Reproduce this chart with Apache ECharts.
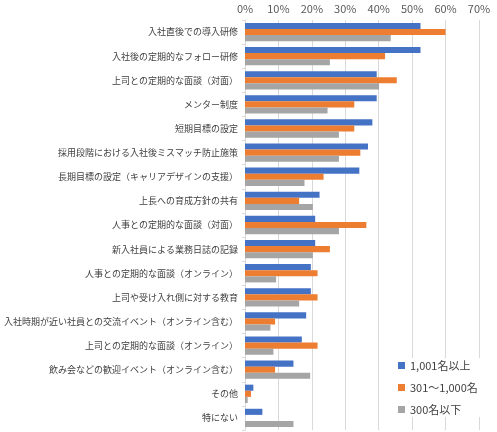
<!DOCTYPE html>
<html lang="ja">
<head>
    <meta charset="UTF-8">
    <title>新入社員フォロー施策</title>
    <script src="https://cdn.jsdelivr.net/npm/echarts@6/dist/echarts.min.js"></script>
    <style>
        html, body { margin: 0; padding: 0; background: #fff; }
    </style>
</head>
<body>
<div id="chart" style="width: 497px; height: 432px;"></div>
<script>
    // 項目（上から順）
    var categories = [
        '入社直後での導入研修',
        '入社後の定期的なフォロー研修',
        '上司との定期的な面談（対面）',
        'メンター制度',
        '短期目標の設定',
        '採用段階における入社後ミスマッチ防止施策',
        '長期目標の設定（キャリアデザインの支援）',
        '上長への育成方針の共有',
        '人事との定期的な面談（対面）',
        '新入社員による業務日誌の記録',
        '人事との定期的な面談（オンライン）',
        '上司や受け入れ側に対する教育',
        '入社時期が近い社員との交流イベント（オンライン含む）',
        '上司との定期的な面談（オンライン）',
        '飲み会などの歓迎イベント（オンライン含む）',
        'その他',
        '特にない'
    ];
    var seriesNames = ['1,001名以上', '301～1,000名', '300名以下'];
    // 値（%）
    var large = [52.5, 52.5, 39.4, 39.4, 38.1, 36.8, 34.2, 22.3, 21.0, 21.0, 19.7, 19.7, 18.3, 17.0, 14.5, 2.5, 5.2];
    var middle = [60.0, 41.9, 45.4, 32.7, 32.7, 34.5, 23.5, 16.2, 36.3, 25.4, 21.7, 21.7, 9.0, 21.7, 9.0, 1.8, 0];
    var small = [43.6, 25.4, 40.1, 24.7, 28.1, 28.1, 17.8, 20.3, 28.1, 20.3, 9.3, 16.2, 7.6, 8.5, 19.5, 0.8, 14.5];
    var colors = ['#4472C4', '#ED7D31', '#A5A5A5'];

    var chart = echarts.init(document.getElementById('chart'));
    var fontFamily = '"Noto Sans CJK JP", "Noto Sans", sans-serif';

    function makeSeries(name, data) {
        return {
            name: name,
            type: 'bar',
            data: data,
            barGap: 0,
            barCategoryGap: '24%',
            animation: false
        };
    }

    chart.setOption({
        color: colors,
        textStyle: { fontFamily: fontFamily },
        grid: { left: 245, right: 18, top: 20, bottom: 2 },
        legend: {
            data: seriesNames,
            orient: 'vertical',
            left: 396,
            top: 358,
            itemWidth: 7,
            itemHeight: 7,
            itemGap: 11,
            icon: 'rect',
            backgroundColor: '#fff',
            padding: [2, 4, 2, 2],
            textStyle: { fontSize: 11, color: '#404040', fontFamily: fontFamily }
        },
        xAxis: {
            type: 'value',
            position: 'top',
            min: 0,
            max: 70,
            interval: 10,
            axisLine: { show: false },
            axisTick: { show: false },
            axisLabel: {
                formatter: '{value}%',
                fontSize: 11,
                color: '#595959',
                margin: 6
            },
            splitLine: { lineStyle: { color: '#D9D9D9', width: 1 } }
        },
        yAxis: {
            type: 'category',
            data: categories,
            inverse: true,
            axisLine: { lineStyle: { color: '#D9D9D9' } },
            axisTick: { show: true, length: 3, lineStyle: { color: '#D9D9D9' } },
            axisLabel: {
                fontSize: 9,
                color: '#404040',
                margin: 7
            }
        },
        series: [
            makeSeries(seriesNames[0], large),
            makeSeries(seriesNames[1], middle),
            makeSeries(seriesNames[2], small)
        ]
    });
</script>
</body>
</html>
